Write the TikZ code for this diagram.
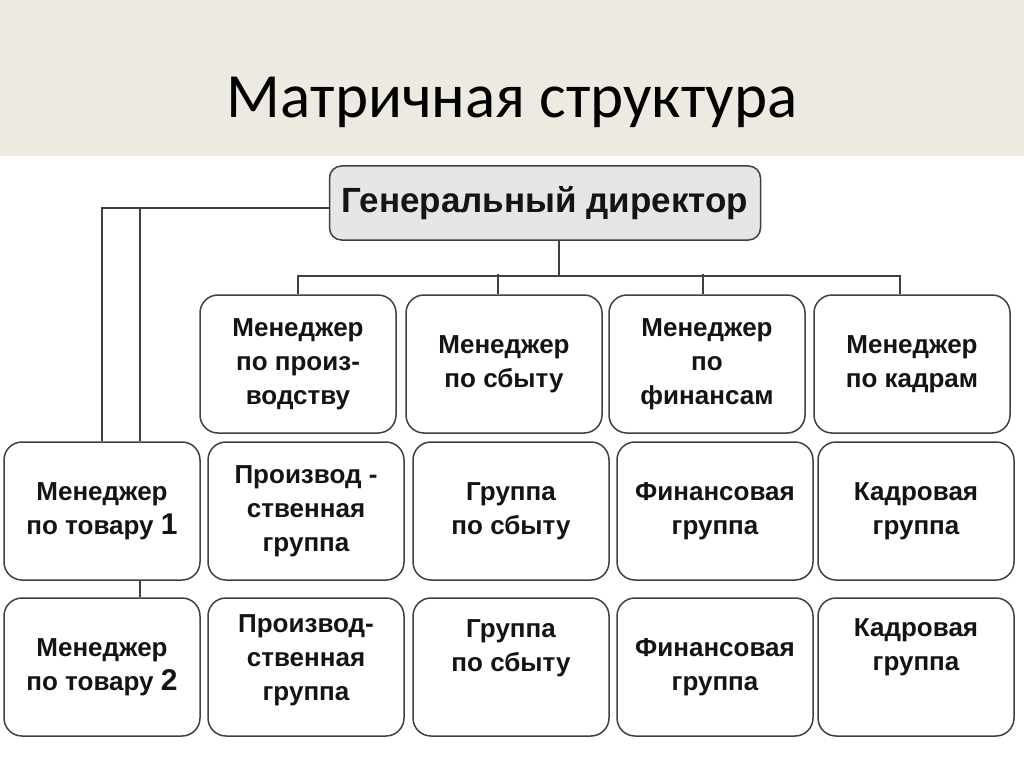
\documentclass[tikz,border=0pt]{standalone}
\usepackage{fontspec}
\setmainfont{Liberation Sans}
\newfontfamily\titlefont{Carlito}
\definecolor{bandcol}{RGB}{236,234,225}
\definecolor{edgecol}{RGB}{64,64,64}
\definecolor{gdcol}{RGB}{230,230,230}

\begin{document}
\begin{tikzpicture}[x=1pt, y=-1pt,
        wire/.style={draw=edgecol, line width=1.6pt},
        box/.style={draw=edgecol, line width=1.5pt, fill=white, rounded corners=18pt,
            minimum width=196pt, minimum height=138pt, inner sep=2pt, align=center,
            text=black!92, font=\fontsize{26}{34}\selectfont\bfseries},
        chief/.style={box, fill=gdcol, minimum width=431pt, minimum height=74pt,
            rounded corners=12pt, font=\fontsize{35}{35}\selectfont\bfseries}]
            \fill[white] (0,0) rectangle (1024,767);
            \fill[bandcol] (0,0) rectangle (1024,156);
            \useasboundingbox (0,0) rectangle (1024,767);
            \node (title) at (512,102) {\titlefont\fontsize{63}{63}\selectfont Матричная структура};

            \node[chief] (gd) at (545,203) {Генеральный директор};

            \node[box] (mpr) at (298,364) {Менеджер\\по произ-\\водству};
            \node[box] (msb) at (504,364) {Менеджер\\по сбыту};
            \node[box] (mfin) at (707,364) {Менеджер\\по\\финансам};
            \node[box] (mkad) at (912,364) {Менеджер\\по кадрам};

            \node[box] (mt1) at (102,511) {Менеджер\\по товару {\fontsize{30}{30}\selectfont 1}};
            \node[box] (pr1) at (306,511) {Производ -\\ственная\\группа};
            \node[box] (sb1) at (511,511) {Группа\\по сбыту};
            \node[box] (fin1) at (715,511) {Финансовая\\группа};
            \node[box] (kad1) at (916,511) {Кадровая\\группа};

            \node[box] (mt2) at (102,667) {Менеджер\\по товару {\fontsize{30}{30}\selectfont 2}};
            \node[box] (pr2) at (306,667) {Производ-\\ственная\\группа\\[-15pt]~};
            \node[box] (sb2) at (511,667) {Группа\\по сбыту\\[9pt]~};
            \node[box] (fin2) at (715,667) {Финансовая\\группа};
            \node[box] (kad2) at (916,667) {Кадровая\\группа\\[11pt]~};

            \draw[wire] ([xshift=14pt]gd.south) -- ++(0,35) coordinate (bus);
            \draw[wire] (mpr.north) |- (bus) -| ([xshift=-12pt]mkad.north);
            \draw[wire] ([xshift=-6pt]msb.north) -- ++(0,-20);
            \draw[wire] ([xshift=-4pt]mfin.north) -- ++(0,-20);

            \draw[wire] ([yshift=-5pt]gd.west) -| (mt1.north);
            \draw[wire] ([yshift=-5pt]gd.west) -| ([xshift=38pt]mt1.north);
            \draw[wire] ([xshift=38pt]mt1.south) -- ([xshift=38pt]mt2.north);
\end{tikzpicture}
\end{document}
